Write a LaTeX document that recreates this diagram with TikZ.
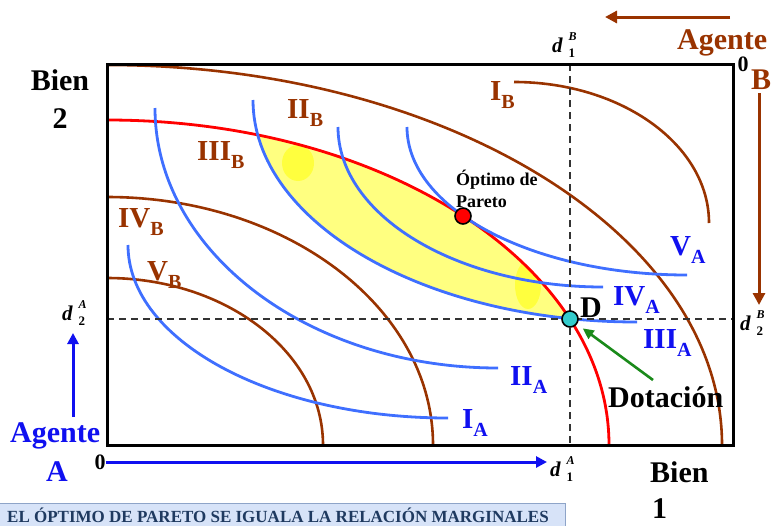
\documentclass[tikz,border=0pt]{standalone}
\usepackage{fontspec}
\setmainfont{Liberation Serif}
\usetikzlibrary{arrows.meta,positioning}
\definecolor{Brown}{HTML}{993300}
\definecolor{CurveBlue}{HTML}{3F6FFF}
\definecolor{LabBlue}{HTML}{1010F0}
\definecolor{LensYellow}{HTML}{FFFF80}
\definecolor{HotYellow}{HTML}{FFFF2E}
\definecolor{DotCyan}{HTML}{33CCCC}
\definecolor{DotGreen}{HTML}{1A8A1A}
\definecolor{BannerFill}{HTML}{D7E3F8}
\definecolor{BannerLine}{HTML}{8EA4C8}
\definecolor{BannerText}{HTML}{1F3A60}
\newcommand{\fs}[1]{\fontsize{#1}{#1}\selectfont}
\newcommand{\ilab}[2]{#1\raisebox{-8pt}{\fs{20}#2}}
\newcommand{\dlab}[2]{{\itshape d}\kern6pt\rlap{\raisebox{12pt}{\fs{12}\itshape #2}}\raisebox{-5pt}{\fs{13}#1}}
\tikzset{
  bcurve/.style={draw=Brown, line width=2.6pt},
  acurve/.style={draw=CurveBlue, line width=2.8pt},
  redcurve/.style={draw=red, line width=2.8pt},
  guide/.style={draw=black!80, line width=1.6pt, dash pattern=on 7pt off 5pt},
  frame/.style={draw=black, line width=3pt},
  lblB/.style={text=Brown, font=\bfseries\fs{29}, inner sep=0pt, anchor=base west},
  lblA/.style={text=LabBlue, font=\bfseries\fs{29}, inner sep=0pt, anchor=base west},
  big/.style={font=\bfseries\fs{30}, inner sep=0pt, anchor=base west},
  dtxt/.style={font=\bfseries\fs{21}, inner sep=0pt, anchor=base west},
  arrA/.style={-{Triangle[length=11pt,width=11pt]}, draw=LabBlue, line width=3pt},
  arrB/.style={-{Triangle[length=12pt,width=12pt]}, draw=Brown, line width=3pt},
  arrG/.style={-{Triangle[length=11pt,width=10pt]}, draw=DotGreen, line width=2.6pt},
  dot/.style={circle, draw=black, line width=1.6pt, minimum size=16pt, inner sep=0pt}
}
\begin{document}
\begin{tikzpicture}[x=1pt,y=-1pt]
\useasboundingbox (0,0) rectangle (773,525);

% lens between III_B and III_A
\begin{scope}
  \clip (107,120) arc[start angle=-90,end angle=0,x radius=502,y radius=325] -- (107,445) -- cycle;
  \clip (253,100) arc[start angle=180,end angle=90,x radius=384,y radius=222] -- (637,63) -- (253,63) -- cycle;
  \fill[LensYellow] (107,63) rectangle (733,445);
  \fill[HotYellow, opacity=.8] (298,163) ellipse[x radius=16,y radius=18];
  \fill[HotYellow, opacity=.8] (528,285) ellipse[x radius=13,y radius=24];
\end{scope}

% agent B curves
\foreach \sx/\sy/\rx/\ry in {107/65/615/380, 107/197/326/248, 107/278/216/167, 514/82/195/141}
  \draw[bcurve] (\sx,\sy) arc[start angle=-90,end angle=0,x radius=\rx,y radius=\ry];
\draw[redcurve] (107,120) arc[start angle=-90,end angle=0,x radius=502,y radius=325];

% agent A curves
\foreach \sx/\sy/\rx/\ry in {128/245/320/173, 155/108/343/260, 253/100/384/222, 338/127/265/160, 407/127/280/148}
  \draw[acurve] (\sx,\sy) arc[start angle=180,end angle=90,x radius=\rx,y radius=\ry];

% endowment lines
\coordinate (topD) at (570,64);
\coordinate (botD) at (570,445);
\coordinate (leftD) at (107,319);
\coordinate (rightD) at (733,319);
\draw[guide] (topD) -- (botD);
\draw[guide] (leftD) -- (rightD);

\draw[frame] (107,64) rectangle (733,445);

\node[dot, fill=red] (pareto) at (463,216) {};
\node[dot, fill=DotCyan] (D) at (570,319) {};

% curve labels
\foreach \x/\y/\t/\n in {490/100/I/IB, 287/118/II/IIB, 197/160/III/IIIB, 118/227/IV/IVB, 147/280/V/VB}
  \node[lblB, name=\n] at (\x,\y) {\ilab{\t}{B}};
\foreach \x/\y/\t/\n in {670/255/V/VA, 613/305/IV/IVA, 643/348/III/IIIA, 510/385/II/IIA, 462/428/I/IA}
  \node[lblA, name=\n] at (\x,\y) {\ilab{\t}{A}};

\node[font=\bfseries\fontsize{18}{22}\selectfont, align=left, inner sep=0pt, anchor=north west] (optlbl) at (456,170) {Óptimo de\\Pareto};
\node[big] (Dlbl) at (580,317) {D};
\node[big] (dotlbl) at (608,407) {Dotación};
\coordinate (gTail) at (653,380);
\draw[arrG, shorten >=7pt] (gTail) -- (D);

% axes and agents
\node[big, anchor=base] (bien2) at (60,90) {Bien};
\node[big, anchor=base] (two) at (60,128) {2};
\node[big] (bien1) at (650,482) {Bien};
\node[big] (one) at (652,518) {1};

\node[dtxt] (d1B) at (552,52) {\dlab{1}{B}};
\node[dtxt] (d1A) at (550,476) {\dlab{1}{A}};
\node[dtxt] (d2A) at (62,320) {\dlab{2}{A}};
\node[dtxt] (d2B) at (740,330) {\dlab{2}{B}};

\node[big, text=LabBlue] (agA) at (10,442) {Agente};
\node[big, text=LabBlue, anchor=base] (agAl) at (57,481) {A};
\node[font=\bfseries\fs{22}, inner sep=0pt] (zeroA) at (100,462) {0};
\coordinate (upTail) at (73,417);
\coordinate (upTip) at (73,333);
\coordinate (rightTip) at (547,462);
\draw[arrA] (upTail) -- (upTip);
\draw[arrA] (zeroA.east) -- (rightTip);

\node[big, text=Brown] (agB) at (677,49) {Agente};
\node[big, text=Brown, anchor=base] (agBl) at (761,89) {B};
\node[font=\bfseries\fs{22}, inner sep=0pt] (zeroB) at (743,64) {0};
\coordinate (leftTail) at (730,17);
\coordinate (leftTip) at (605,17);
\coordinate (downTail) at (759,93);
\coordinate (downTip) at (759,305);
\draw[arrB] (leftTail) -- (leftTip);
\draw[arrB] (downTail) -- (downTip);

% banner
\draw[BannerLine, fill=BannerFill, line width=1pt] (-2,503) rectangle (565,540);
\node[font=\bfseries\fs{17}, text=BannerText, inner sep=0pt, anchor=base west] (banner) at (7,522) {EL ÓPTIMO DE PARETO SE IGUALA LA RELACIÓN MARGINALES};
\end{tikzpicture}
\end{document}
